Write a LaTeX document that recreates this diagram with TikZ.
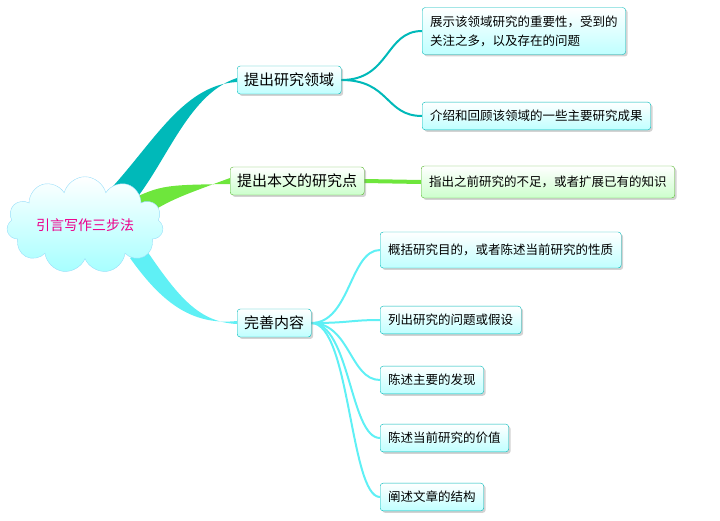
\documentclass[tikz,border=0pt]{standalone}
\usepackage{fontspec}
\newfontfamily\cjk{Noto Sans CJK SC}
\usetikzlibrary{shapes.symbols,shadows,backgrounds}
\definecolor{tealb}{RGB}{0,185,185}
\definecolor{greenb}{RGB}{110,230,60}
\definecolor{cyanb}{RGB}{95,240,245}
\tikzset{
  topic/.style={draw=tealb,rounded corners=3pt,top color=white,bottom color=cyan!25,anchor=west,
    drop shadow={opacity=.35,shadow xshift=2pt,shadow yshift=-2pt},inner sep=7pt,
    font=\cjk\fontsize{15}{18}\selectfont},
  leaf/.style={topic,font=\cjk\fontsize{12.5}{19}\selectfont,align=left,inner sep=8pt},
  greenbox/.style={draw=greenb!80!black,top color=white,bottom color=green!20},
  link/.style={line width=2pt,line cap=round}
}
\begin{document}
\begin{tikzpicture}[x=1pt,y=-1pt]
\useasboundingbox (0,0) rectangle (720,520);
% centre
\node[cloud,cloud puffs=11,aspect=2.2,minimum width=155pt,minimum height=85pt,draw=cyan!40,
  top color=white,bottom color=cyan!35,font=\cjk\fontsize{14}{16}\selectfont,text=magenta] (c) at (85,225) {引言写作三步法};
% main branches
\node[topic] (b1) at (237,80) {提出研究领域};
\node[topic,greenbox] (b2) at (230,181) {提出本文的研究点};
\node[topic] (b3) at (237,323) {完善内容};
% leaves
\node[leaf] (l1) at (422,31) {展示该领域研究的重要性，受到的\\关注之多，以及存在的问题};
\node[leaf] (l2) at (422,116) {介绍和回顾该领域的一些主要研究成果};
\node[leaf,greenbox,inner ysep=10pt] (l3) at (421,182) {指出之前研究的不足，或者扩展已有的知识};
\node[leaf,inner ysep=12pt] (l4) at (380,250) {概括研究目的，或者陈述当前研究的性质};
\node[leaf] (l5) at (380,320) {列出研究的问题或假设};
\node[leaf] (l6) at (380,380) {陈述主要的发现};
\node[leaf] (l7) at (380,438) {陈述当前研究的价值};
\node[leaf] (l8) at (380,497) {阐述文章的结构};
\begin{pgfonlayer}{background}
% tapered connectors
\fill[tealb] (100,200) .. controls (150,150) and (180,85) .. ([yshift=-2pt]b1.west)
  -- ([yshift=2pt]b1.west) .. controls (185,95) and (165,170) .. (125,212) -- cycle;
\fill[greenb] (120,205) .. controls (160,185) .. ([yshift=-3pt]b2.west)
  -- ([yshift=3pt]b2.west) .. controls (170,200) .. (130,225) -- cycle;
\fill[cyanb] (145,248) .. controls (180,300) and (200,322) .. ([yshift=-1pt]b3.west)
  -- ([yshift=2pt]b3.west) .. controls (190,326) and (160,300) .. (130,258) -- cycle;
% leaf connectors
\draw[link,tealb] (b1.east) .. controls (390,80) and (385,31) .. (l1.west);
\draw[link,tealb] (b1.east) .. controls (390,80) and (385,116) .. (l2.west);
\draw[line width=4pt,greenb] (b2.east) -- (l3.west);
\foreach \l in {l4,l5,l6,l7,l8}
  \draw[link,cyanb] (b3.east) .. controls (350,323) and ([xshift=-30pt]\l.west) .. (\l.west);
\end{pgfonlayer}
\end{tikzpicture}
\end{document}
